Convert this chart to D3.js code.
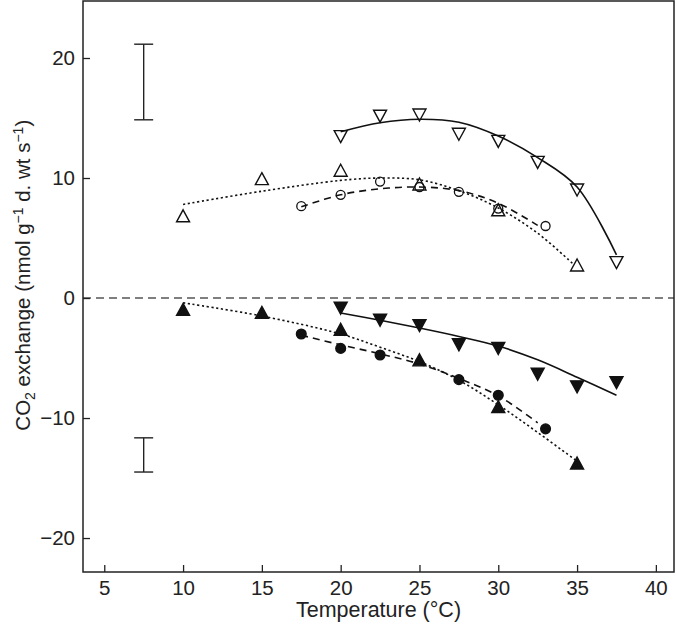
<!DOCTYPE html>
<html>
<head>
<meta charset="utf-8">
<script src="https://cdn.jsdelivr.net/npm/d3@7"></script>
<style>
html,body{margin:0;padding:0;background:#fff;}
svg{display:block;}
text{font-family:"Liberation Sans",Arial,Helvetica,sans-serif;fill:#222;}
</style>
</head>
<body>
<script>
// ---- data ----
const xTicks = [5, 10, 15, 20, 25, 30, 35, 40];
const yTicks = [-20, -10, 0, 10, 20];

const openDownX = [20, 22.5, 25, 27.5, 30, 32.5, 35, 37.5];
const openDownY = [13.45, 15.15, 15.25, 13.65, 13.05, 11.3, 9.0, 2.95];
const openUpX = [10, 15, 20, 25, 30, 35];
const openUpY = [6.85, 9.95, 10.65, 9.5, 7.35, 2.75];
const openCircX = [17.5, 20, 22.5, 25, 27.5, 30, 33];
const openCircY = [7.65, 8.6, 9.7, 9.25, 8.85, 7.45, 6.0];
const filledDownX = [20, 22.5, 25, 27.5, 30, 32.5, 35, 37.5];
const filledDownY = [-0.85, -1.85, -2.3, -3.9, -4.2, -6.35, -7.4, -7.05];
const filledUpX = [10, 15, 20, 25, 30, 35];
const filledUpY = [-0.95, -1.2, -2.6, -5.15, -9.05, -13.75];
const filledCircX = [17.5, 20, 22.5, 27.5, 30, 33];
const filledCircY = [-3.0, -4.2, -4.75, -6.8, -8.1, -10.9];

// fitted curves
const fitOpenDownX = [20, 22.5, 25, 27.5, 30, 32.5, 35, 37.5];
const fitOpenDownY = [13.85, 14.6, 14.9, 14.65, 13.5, 11.7, 9.25, 3.6];
const fitOpenUpX = [10, 15, 20, 22.5, 25, 27.5, 30, 32.5, 34.7];
const fitOpenUpY = [7.8, 8.9, 9.8, 10.0, 9.85, 8.95, 7.5, 5.4, 2.9];
const fitOpenCircX = [17.5, 20, 22.5, 25, 27.5, 30, 32.5];
const fitOpenCircY = [7.6, 8.6, 9.1, 9.25, 8.95, 7.9, 6.05];
const fitFilledDownX = [20, 22.5, 25, 27.5, 30, 32.5, 35, 37.5];
const fitFilledDownY = [-1.25, -1.85, -2.5, -3.2, -4.0, -5.15, -6.6, -8.1];
const fitFilledUpX = [10, 15, 20, 22.5, 25, 27.5, 30, 32.5, 35];
const fitFilledUpY = [-0.4, -1.5, -3.0, -4.1, -5.3, -6.85, -8.9, -11.2, -13.6];
const fitFilledCircX = [17.5, 20, 22.5, 25, 27.5, 30, 32.5];
const fitFilledCircY = [-3.1, -3.9, -4.65, -5.5, -6.7, -8.15, -10.4];

// error bars
const errX = [7.5, 7.5];
const errLow = [14.85, -14.5];
const errHigh = [21.15, -11.65];

// ---- chart ----
const W = 677, H = 626;
const L = 83, R = 674, T = 1, B = 572;
const x = d3.scaleLinear().domain([3.65, 41.15]).range([L, R]);
const y = d3.scaleLinear().domain([-22.83, 24.75]).range([B, T]);

const svg = d3.select("body").append("svg").attr("width", W).attr("height", H);

const zip = (xs, ys) => xs.map((v, i) => [v, ys[i]]);

// zero line
svg.append("line")
  .attr("x1", L).attr("x2", R).attr("y1", y(0)).attr("y2", y(0))
  .attr("stroke", "#555").attr("stroke-width", 1.5).attr("stroke-dasharray", "8,5");

// axes
const ax = svg.append("g").attr("transform", `translate(0,${B})`)
  .call(d3.axisBottom(x).tickValues(xTicks).tickSize(-7).tickPadding(8).tickFormat(d3.format("d")));
const ay = svg.append("g").attr("transform", `translate(${L},0)`)
  .call(d3.axisLeft(y).tickValues(yTicks).tickSize(-7).tickPadding(8).tickFormat(d3.format("d")));
[ax, ay].forEach(g => {
  g.select(".domain").remove();
  g.selectAll("line").attr("stroke", "#222").attr("stroke-width", 1.3);
  g.selectAll("text").attr("font-size", 20.5).attr("fill", "#222")
    .style("font-family", '"Liberation Sans",Arial,sans-serif');
});

// frame
svg.append("rect").attr("x", L).attr("y", T).attr("width", R - L).attr("height", B - T)
  .attr("fill", "none").attr("stroke", "#222").attr("stroke-width", 1.5);

// error bars
errX.forEach((xv, i) => {
  const g = svg.append("g").attr("stroke", "#222").attr("stroke-width", 1.4);
  g.append("line").attr("x1", x(xv)).attr("x2", x(xv)).attr("y1", y(errLow[i])).attr("y2", y(errHigh[i]));
  g.append("line").attr("x1", x(xv) - 9.5).attr("x2", x(xv) + 9.5).attr("y1", y(errLow[i])).attr("y2", y(errLow[i]));
  g.append("line").attr("x1", x(xv) - 9.5).attr("x2", x(xv) + 9.5).attr("y1", y(errHigh[i])).attr("y2", y(errHigh[i]));
});

// fitted lines
const line = d3.line().x(d => x(d[0])).y(d => y(d[1])).curve(d3.curveCatmullRom.alpha(0.5));
const fits = [
  [fitOpenDownX, fitOpenDownY, null],
  [fitOpenUpX, fitOpenUpY, "2.2,2.6"],
  [fitOpenCircX, fitOpenCircY, "7,5"],
  [fitFilledDownX, fitFilledDownY, null],
  [fitFilledUpX, fitFilledUpY, "2.2,2.6"],
  [fitFilledCircX, fitFilledCircY, "7,5"]
];
fits.forEach(([xs, ys, dash]) => {
  svg.append("path").datum(zip(xs, ys)).attr("d", line)
    .attr("fill", "none").attr("stroke", "#111").attr("stroke-width", 1.6)
    .attr("stroke-dasharray", dash);
});

// markers
const triUp = { draw(ctx, s) { const w = 6.5, h = 6; ctx.moveTo(0, -h); ctx.lineTo(w, h); ctx.lineTo(-w, h); ctx.closePath(); } };
const triDown = { draw(ctx, s) { const w = 6.5, h = 6; ctx.moveTo(0, h); ctx.lineTo(w, -h); ctx.lineTo(-w, -h); ctx.closePath(); } };

function markers(xs, ys, kind, filled) {
  const g = svg.append("g");
  const data = zip(xs, ys);
  if (kind === "circle") {
    g.selectAll("circle").data(data).join("circle")
      .attr("cx", d => x(d[0])).attr("cy", d => y(d[1]))
      .attr("r", filled ? 4.9 : 4.5)
      .attr("fill", filled ? "#111" : "none").attr("stroke", "#111").attr("stroke-width", 1.3);
  } else {
    const sym = d3.symbol().type(kind === "up" ? triUp : triDown);
    g.selectAll("path").data(data).join("path")
      .attr("transform", d => `translate(${x(d[0])},${y(d[1])})`)
      .attr("d", sym)
      .attr("fill", filled ? "#111" : "none").attr("stroke", "#111").attr("stroke-width", 1.4)
      .attr("stroke-linejoin", "miter");
  }
}
markers(openDownX, openDownY, "down", false);
markers(openUpX, openUpY, "up", false);
markers(openCircX, openCircY, "circle", false);
markers(filledDownX, filledDownY, "down", true);
markers(filledUpX, filledUpY, "up", true);
markers(filledCircX, filledCircY, "circle", true);

// axis titles
svg.append("text").attr("x", (L + R) / 2).attr("y", 617).attr("text-anchor", "middle")
  .attr("font-size", 21.5).text("Temperature (°C)");

const yl = svg.append("text").attr("transform", `translate(30,${y(1.9)}) rotate(-90)`)
  .attr("text-anchor", "middle").attr("font-size", 20.5);
yl.append("tspan").text("CO");
yl.append("tspan").attr("font-size", 14).attr("dy", 5).text("2");
yl.append("tspan").attr("dy", -5).text(" exchange (nmol g");
yl.append("tspan").attr("font-size", 14).attr("dy", -7.5).text("−1");
yl.append("tspan").attr("dy", 7.5).text(" d. wt s");
yl.append("tspan").attr("font-size", 14).attr("dy", -7.5).text("−1");
yl.append("tspan").attr("dy", 7.5).text(")");
</script>
</body>
</html>
